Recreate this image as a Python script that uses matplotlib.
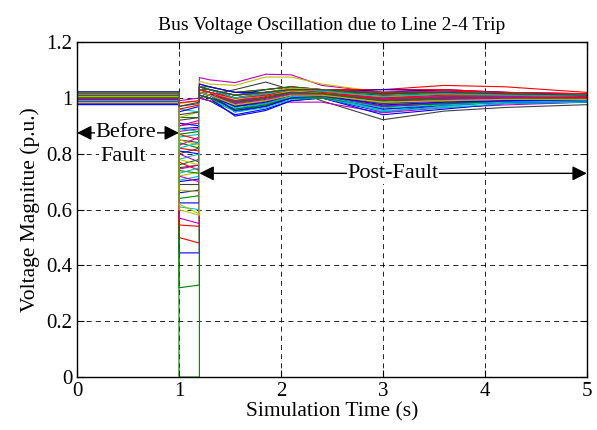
import matplotlib
matplotlib.use("Agg")
import matplotlib.pyplot as plt
import numpy as np

plt.rcParams['font.family'] = ['Liberation Serif', 'DejaVu Serif']

# MATLAB (pre-2014) line colour order: b, g, r, c, m, y, k
line_colors = [(0, 0, 1), (0, 0.5, 0), (1, 0, 0), (0, 0.75, 0.75),
               (0.75, 0, 0.75), (0.75, 0.75, 0), (0.25, 0.25, 0.25)]

# time instants (s)
t_fault_on = 1.0
t_fault_off = 1.2
t_post = [1.2, 1.3, 1.55, 1.85, 2.1, 2.4, 3.0, 3.6, 4.2, 5.0]

# pre-fault voltage of each bus (p.u.)
v_pre = [1.000, 0.995, 1.010, 0.985, 1.020, 1.012, 1.003, 0.998,
         0.990, 1.006, 1.001, 0.982, 1.015, 1.004, 1.022, 0.996,
         1.008, 0.988, 1.013, 1.000, 0.993, 0.978, 1.017, 1.002,
         1.009, 0.997, 1.005, 0.986, 1.011, 0.999, 1.018, 0.992,
         1.003, 0.984, 1.007, 1.014, 0.994, 1.001, 1.010, 0.989,
         1.006, 1.016, 0.997, 1.012, 1.000, 0.991, 1.004, 1.019,
         0.995, 0.976, 1.002, 1.008, 1.013, 0.998, 1.005, 1.021]

# voltage during the fault, at its start and at its end
v_on = [0.445, 0.0, 0.50, 0.61, 0.99, 0.98, 0.97, 0.89, 0.32, 0.545,
        0.86, 0.57, 0.62, 0.69, 0.624, 0.93, 0.983, 0.78, 0.80, 0.72,
        0.75, 0.66, 0.84, 0.87, 0.96, 0.745, 0.67, 0.80, 0.81, 0.76,
        0.90, 0.705, 0.88, 0.93, 0.85, 0.95, 0.74, 0.77, 0.89, 0.83,
        0.78, 0.92, 0.70, 0.87, 0.82, 0.73, 0.72, 0.85, 0.94, 0.91,
        0.64, 0.96, 0.82, 0.90, 0.60, 0.97]
v_off = [0.445, 0.0, 0.48, 0.60, 1.00, 0.99, 0.98, 0.895, 0.33, 0.54,
         0.87, 0.55, 0.585, 0.69, 0.624, 0.93, 0.99, 0.80, 0.77, 0.735,
         0.76, 0.67, 0.82, 0.85, 0.95, 0.76, 0.665, 0.82, 0.80, 0.78,
         0.91, 0.72, 0.89, 0.95, 0.84, 0.97, 0.73, 0.74, 0.88, 0.86,
         0.76, 0.93, 0.71, 0.88, 0.81, 0.75, 0.70, 0.83, 0.95, 0.90,
         0.65, 0.975, 0.84, 0.92, 0.58, 0.985]

# post-fault voltages, one list per time instant in t_post
v_120 = [1.00, 1.01, 1.02, 1.01, 1.073, 1.06, 1.00, 1.03, 1.00, 1.03,
         1.02, 1.00, 1.03, 1.02, 1.04, 1.03, 1.05, 1.02, 1.04, 1.03,
         1.02, 1.01, 1.04, 1.03, 1.02, 1.03, 1.02, 1.01, 1.05, 1.02,
         1.04, 1.01, 1.03, 1.02, 1.02, 1.04, 1.01, 1.03, 1.03, 1.02,
         1.04, 1.03, 1.02, 1.04, 1.02, 1.02, 1.03, 1.03, 1.01, 1.02,
         1.02, 1.03, 1.04, 1.02, 1.02, 1.04]
v_130 = [0.99, 1.00, 1.01, 1.00, 1.065, 1.05, 1.01, 1.02, 0.99, 1.02,
         1.01, 0.99, 1.02, 1.02, 1.03, 1.03, 1.04, 1.01, 1.03, 1.02,
         1.01, 1.00, 1.04, 1.02, 1.02, 1.02, 1.01, 1.00, 1.04, 1.01,
         1.03, 1.00, 1.02, 1.01, 1.01, 1.03, 1.00, 1.02, 1.02, 1.01,
         1.03, 1.02, 1.01, 1.03, 1.01, 1.01, 1.02, 1.02, 1.00, 1.01,
         1.01, 1.02, 1.03, 1.01, 1.01, 1.03]
v_155 = [0.94, 0.96, 0.97, 0.96, 1.055, 1.045, 1.03, 0.95, 0.955, 0.99,
         0.97, 0.975, 0.99, 1.00, 1.01, 1.01, 1.02, 0.98, 1.00, 1.00,
         0.98, 0.935, 1.02, 0.98, 1.00, 0.99, 0.97, 0.97, 1.02, 0.98,
         1.01, 0.95, 0.99, 0.98, 0.985, 1.00, 0.96, 0.985, 1.00, 0.97,
         1.01, 1.00, 0.955, 1.01, 0.99, 0.965, 0.99, 0.995, 0.975, 0.97,
         0.985, 1.00, 1.00, 0.98, 0.975, 1.01]
v_185 = [0.96, 0.98, 0.99, 0.98, 1.085, 1.075, 1.057, 0.97, 0.975, 1.01,
         0.99, 0.987, 1.00, 1.01, 1.03, 1.02, 1.03, 0.99, 1.02, 1.02,
         1.00, 0.955, 1.03, 1.00, 1.01, 1.00, 0.985, 0.98, 1.02, 0.99,
         1.02, 0.965, 1.01, 0.99, 1.00, 1.015, 0.975, 1.005, 1.01, 0.99,
         1.02, 1.01, 0.97, 1.02, 1.00, 0.98, 1.00, 1.01, 0.99, 0.985,
         1.00, 1.01, 1.015, 0.995, 0.99, 1.02]
v_210 = [0.99, 1.01, 1.02, 1.01, 1.083, 1.075, 1.03, 1.00, 1.00, 1.03,
         1.01, 0.985, 1.02, 1.02, 1.04, 1.03, 1.04, 1.01, 1.03, 1.03,
         1.02, 0.99, 1.04, 1.02, 1.02, 1.02, 1.01, 1.00, 1.03, 1.01,
         1.035, 0.995, 1.02, 1.01, 1.015, 1.03, 1.00, 1.025, 1.03, 1.01,
         1.035, 1.02, 1.00, 1.03, 1.02, 1.005, 1.02, 1.025, 1.01, 1.01,
         1.02, 1.03, 1.03, 1.015, 1.01, 1.03]
v_240 = [1.00, 1.01, 1.02, 1.00, 1.045, 1.05, 0.99, 1.00, 1.00, 1.03,
         1.01, 0.985, 1.01, 1.02, 1.03, 1.02, 1.03, 1.01, 1.02, 1.02,
         1.02, 1.00, 1.03, 1.02, 1.01, 1.02, 1.01, 1.00, 1.02, 1.01,
         1.03, 1.00, 1.02, 1.01, 1.015, 1.025, 1.00, 1.02, 1.02, 1.01,
         1.03, 1.02, 1.01, 1.025, 1.015, 1.005, 1.02, 1.02, 1.005, 1.01,
         1.015, 1.02, 1.025, 1.01, 1.01, 1.03]
v_300 = [0.97, 0.98, 0.99, 0.96, 1.02, 1.02, 0.922, 0.95, 0.97, 1.03,
         0.95, 0.947, 0.99, 1.00, 1.02, 1.01, 1.03, 0.98, 1.01, 1.00,
         1.00, 0.94, 1.02, 1.00, 0.99, 0.99, 0.975, 0.97, 1.03, 0.99,
         1.02, 0.955, 1.00, 0.98, 0.99, 1.01, 0.97, 0.995, 1.00, 0.97,
         1.01, 1.01, 0.96, 1.015, 0.995, 0.965, 0.995, 1.005, 0.98, 0.975,
         0.99, 1.00, 1.005, 0.985, 0.985, 1.015]
v_360 = [0.98, 0.99, 1.00, 0.97, 1.02, 1.015, 0.953, 0.975, 0.98, 1.045,
         0.97, 0.965, 1.00, 1.01, 1.03, 1.015, 1.03, 0.99, 1.02, 1.01,
         1.00, 0.96, 1.02, 1.01, 1.00, 1.00, 0.985, 0.98, 1.025, 0.995,
         1.025, 0.965, 1.01, 0.99, 1.00, 1.02, 0.98, 1.00, 1.01, 0.985,
         1.02, 1.01, 0.975, 1.02, 1.005, 0.975, 1.005, 1.01, 0.99, 0.985,
         1.00, 1.01, 1.015, 0.995, 0.99, 1.02]
v_420 = [0.99, 1.00, 1.00, 0.99, 1.01, 1.01, 0.966, 0.985, 0.99, 1.04,
         0.985, 0.975, 1.00, 1.01, 1.02, 1.01, 1.02, 0.99, 1.01, 1.01,
         1.005, 0.98, 1.015, 1.01, 1.00, 1.00, 0.99, 0.99, 1.02, 1.00,
         1.02, 0.98, 1.01, 0.995, 1.00, 1.015, 0.99, 1.005, 1.01, 0.99,
         1.015, 1.01, 0.985, 1.015, 1.005, 0.985, 1.005, 1.01, 0.995, 0.99,
         1.00, 1.01, 1.01, 1.00, 0.995, 1.015]
v_500 = [0.99, 1.00, 1.00, 0.99, 1.01, 1.01, 0.976, 0.99, 0.995, 1.02,
         0.985, 0.985, 1.00, 1.005, 1.015, 1.01, 1.015, 0.995, 1.01, 1.005,
         1.00, 0.985, 1.01, 1.005, 1.00, 1.00, 0.995, 0.99, 1.01, 1.00,
         1.015, 0.985, 1.005, 0.995, 1.00, 1.01, 0.99, 1.00, 1.005, 0.995,
         1.01, 1.005, 0.99, 1.01, 1.00, 0.99, 1.00, 1.005, 0.995, 0.995,
         1.00, 1.005, 1.01, 1.00, 0.995, 1.01]


def bus_trace(i):
    """Time and voltage points of bus i, fault steps included."""
    post = [v_120[i], v_130[i], v_155[i], v_185[i], v_210[i],
            v_240[i], v_300[i], v_360[i], v_420[i], v_500[i]]
    t = [0.0, t_fault_on, t_fault_on, t_fault_off] + t_post
    v = [v_pre[i], v_pre[i], v_on[i], v_off[i]] + post
    return t, v


fig = plt.figure(figsize=(5.97, 4.30), dpi=100)
ax = fig.add_axes([0.129, 0.123, 0.854, 0.779])

for i in range(len(v_pre)):
    t, v = bus_trace(i)
    ax.plot(t, v, color=line_colors[i % 7], lw=0.8)

ax.set_xlim(0, 5)
ax.set_ylim(0, 1.2)
ax.set_xticks(range(6))
ax.set_yticks(np.arange(0, 1.21, 0.2))
ax.set_yticklabels(['0', '0.2', '0.4', '0.6', '0.8', '1', '1.2'])
ax.tick_params(direction='in', top=True, right=True, labelsize=15, length=5)
ax.grid(True, color='k', linestyle=(0, (6, 5)), lw=0.6)
for s in ax.spines.values():
    s.set_linewidth(1.0)

ax.set_title('Bus Voltage Oscillation due to Line 2-4 Trip', fontsize=14, pad=9)
ax.set_xlabel('Simulation Time (s)', fontsize=15.5, labelpad=1)
ax.set_ylabel('Voltage Magnitue (p.u.)', fontsize=15.5, labelpad=4)

# annotations
arrow = dict(arrowstyle='<|-|>', color='k', lw=1.0, mutation_scale=22,
             shrinkA=0, shrinkB=0)
ax.annotate('', xy=(0, 0.875), xytext=(t_fault_on, 0.875), arrowprops=arrow)
ax.text(0.48, 0.875, 'Before', fontsize=16, ha='center', va='center',
        bbox=dict(fc='w', ec='none', pad=0.5))
ax.text(0.45, 0.79, 'Fault', fontsize=16, ha='center', va='center',
        bbox=dict(fc='w', ec='none', pad=0.5))
ax.annotate('', xy=(t_fault_off, 0.73), xytext=(5, 0.73), arrowprops=arrow)
ax.text(3.1, 0.73, 'Post-Fault', fontsize=16, ha='center', va='center',
        bbox=dict(fc='w', ec='none', pad=0.5))

fig.savefig('out.png', dpi=100)
